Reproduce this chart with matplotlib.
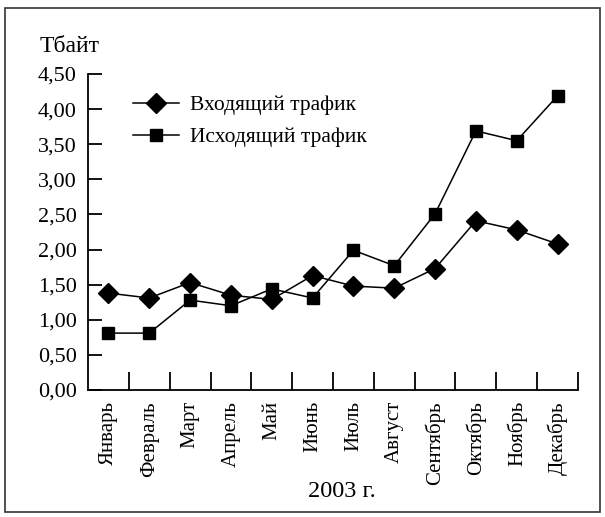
import matplotlib
matplotlib.use("Agg")
import matplotlib.pyplot as plt
from matplotlib.patches import Rectangle

months = ["Январь", "Февраль", "Март", "Апрель", "Май", "Июнь", "Июль",
          "Август", "Сентябрь", "Октябрь", "Ноябрь", "Декабрь"]
incoming = [1.38, 1.31, 1.53, 1.35, 1.29, 1.63, 1.48, 1.45, 1.73, 2.41, 2.28, 2.08]
outgoing = [0.81, 0.81, 1.28, 1.20, 1.44, 1.31, 1.99, 1.77, 2.51, 3.69, 3.55, 4.19]
yticks = [0.0, 0.5, 1.0, 1.5, 2.0, 2.5, 3.0, 3.5, 4.0, 4.5]
ytick_labels = ["0,00", "0,50", "1,00", "1,50", "2,00", "2,50", "3,00", "3,50", "4,00", "4,50"]

plt.rcParams['font.family'] = ['Liberation Serif', 'DejaVu Serif']

fig = plt.figure(figsize=(6.05, 5.17), dpi=100)
fig.patches.append(Rectangle((0.009, 0.01), 0.982, 0.975, transform=fig.transFigure,
                             fill=False, edgecolor='#333333', linewidth=1.2))

W, H = 605, 517
ax = fig.add_axes([88 / W, 1 - 390 / H, (578 - 88) / W, (390 - 74) / H])

x = [i + 0.5 for i in range(len(months))]
ax.plot(x, incoming, color='black', lw=1.1, marker='D', ms=10, label="Входящий трафик")
ax.plot(x, outgoing, color='black', lw=1.1, marker='s', ms=9, label="Исходящий трафик")

ax.set_xlim(0, 12)
ax.set_ylim(0, 4.5)
ax.spines['top'].set_visible(False)
ax.spines['right'].set_visible(False)
for s in ['left', 'bottom']:
    ax.spines[s].set_linewidth(1.3)

ax.set_yticks(yticks)
ax.set_yticklabels(ytick_labels, fontsize=16)
ax.tick_params(axis='y', direction='in', length=10, width=1.3, pad=8)

ax.set_xticks(range(1, 13))
ax.set_xticklabels([])
ax.tick_params(axis='x', direction='in', length=13, width=1.3)
ax.set_xticks(x, minor=True)
ax.set_xticklabels(months, minor=True, rotation=90, fontsize=15, va='top', ha='center')
ax.tick_params(axis='x', which='minor', length=0, pad=8)

fig.text(40 / W, 1 - 52 / H, "Тбайт", fontsize=17, ha='left', va='baseline')
fig.text(342 / W, 1 - 497 / H, "2003 г.", fontsize=17.5, ha='center', va='baseline')

leg = ax.legend(loc='upper left', bbox_to_anchor=(0.075, 0.96), frameon=False, fontsize=15.5,
                handlelength=2.1, handletextpad=0.55, labelspacing=0.55, borderaxespad=0)

fig.savefig("out.png", dpi=100)
